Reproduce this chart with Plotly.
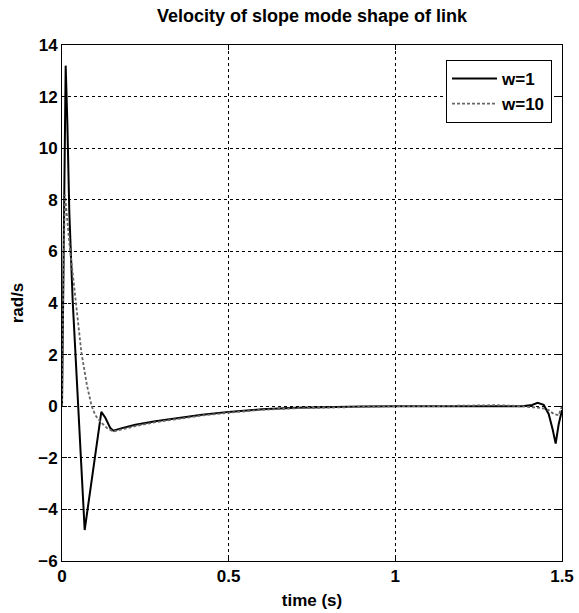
import plotly.graph_objects as go

# ---- data ----
t_w1 = [0, 0.004, 0.011, 0.016, 0.022, 0.032, 0.045, 0.068, 0.118, 0.13, 0.145, 0.154,
        0.18, 0.22, 0.28, 0.35, 0.42, 0.5, 0.6, 0.7, 0.8, 0.9, 1.0, 1.1, 1.2, 1.3,
        1.38, 1.41, 1.427, 1.445, 1.46, 1.472, 1.481, 1.49, 1.5]
v_w1 = [0, 4.0, 13.2, 11.0, 7.5, 4.1, 1.0, -4.8, -0.22, -0.45, -0.85, -0.95,
        -0.85, -0.72, -0.58, -0.45, -0.33, -0.22, -0.12, -0.06, -0.03, -0.01, 0, 0, 0, 0,
        0, 0.05, 0.13, 0.05, -0.3, -0.9, -1.45, -0.7, -0.15]

t_w10 = [0, 0.004, 0.009, 0.014, 0.023, 0.041, 0.058, 0.075, 0.089, 0.1, 0.115, 0.135,
         0.154, 0.18, 0.22, 0.28, 0.35, 0.42, 0.5, 0.6, 0.7, 0.8, 0.93, 1.0, 1.1, 1.22,
         1.3, 1.35, 1.4, 1.44, 1.46, 1.475, 1.49, 1.5]
v_w10 = [0, 5.0, 8.2, 7.4, 6.2, 4.1, 2.1, 0.8, 0, -0.35, -0.6, -0.85,
         -0.98, -0.9, -0.77, -0.62, -0.48, -0.36, -0.25, -0.14, -0.08, -0.05, -0.02, 0, 0, 0.04,
         0.04, 0.02, -0.02, -0.07, -0.15, -0.3, -0.35, 0]

x_ticks = [0, 0.5, 1, 1.5]
x_tick_text = ["0", "0.5", "1", "1.5"]
y_ticks = [-6, -4, -2, 0, 2, 4, 6, 8, 10, 12, 14]

FONT = "Liberation Sans, Arial, sans-serif"

fig = go.Figure()
fig.add_trace(go.Scatter(x=t_w1, y=v_w1, mode="lines", name="w=1",
                         line=dict(color="black", width=2)))
fig.add_trace(go.Scatter(x=t_w10, y=v_w10, mode="lines", name="w=10",
                         line=dict(color="#666666", width=1.8, dash="3px,2px")))

axis_common = dict(
    showline=True, linecolor="black", linewidth=1, mirror="ticks",
    ticks="inside", ticklen=5, tickcolor="black", automargin=False,
    showgrid=True, gridcolor="black", gridwidth=1, griddash="3px,3px",
    zeroline=False, tickfont=dict(family=FONT, size=17, color="black", weight="bold"),
)

fig.update_xaxes(range=[0, 1.5], tickvals=x_ticks, ticktext=x_tick_text,
                 title=dict(text="time (s)",
                            font=dict(family=FONT, size=17, color="black", weight="bold"),
                            standoff=8),
                 **axis_common)
fig.update_yaxes(range=[-6, 14], tickvals=y_ticks,
                 title=dict(text="rad/s",
                            font=dict(family=FONT, size=17, color="black", weight="bold"),
                            standoff=10),
                 **axis_common)

fig.update_layout(
    width=579, height=613,
    margin=dict(l=62, r=17, t=45, b=52),
    paper_bgcolor="white", plot_bgcolor="white",
    title=dict(text="Velocity of slope mode shape of link", x=0.539, xanchor="center",
               y=0.975, yanchor="middle",
               font=dict(family=FONT, size=18, color="black", weight="bold")),
    showlegend=True,
    legend=dict(x=0.98, y=0.971, xanchor="right", yanchor="top",
                bgcolor="white", bordercolor="black", borderwidth=1,
                font=dict(family=FONT, size=17, color="black", weight="bold"),
                itemwidth=45),
)

fig.write_html("out.html")
